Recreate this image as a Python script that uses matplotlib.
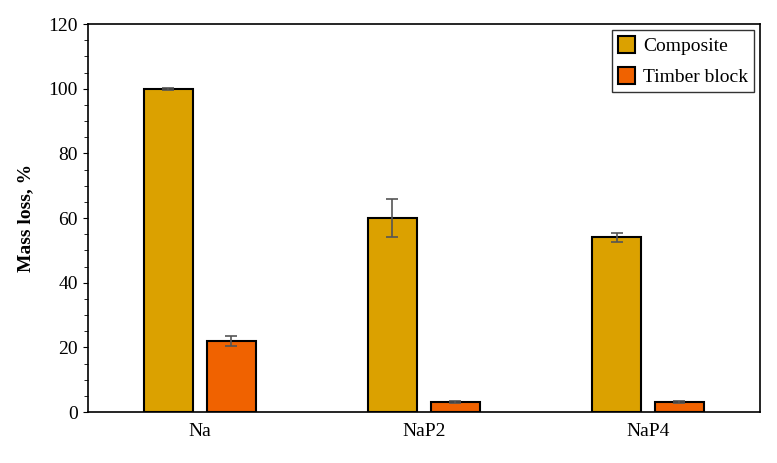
import matplotlib
matplotlib.use("Agg")
import matplotlib.pyplot as plt
import numpy as np

categories = ["Na", "NaP2", "NaP4"]
composite = [100, 60, 54]
composite_err = [0.3, 6, 1.5]
timber = [22, 3.2, 3]
timber_err = [1.5, 0.3, 0.3]

plt.rcParams['font.family'] = ['Liberation Serif', 'DejaVu Serif']

fig = plt.figure(figsize=(7.77, 4.63), dpi=100)
ax = fig.add_axes([0.113, 0.11, 0.865, 0.838])

x = np.arange(len(categories))
w = 0.22
ekw = dict(ecolor='#555555', capsize=4, elinewidth=1.2, capthick=1.2)
ax.bar(x - 0.14, composite, w, yerr=composite_err, color='#DBA100', edgecolor='black',
       linewidth=1.5, label='Composite', error_kw=ekw)
ax.bar(x + 0.14, timber, w, yerr=timber_err, color='#F06200', edgecolor='black',
       linewidth=1.5, label='Timber block', error_kw=ekw)

ax.set_xlim(-0.5, 2.5)
ax.set_ylim(0, 120)
ax.set_yticks(range(0, 121, 20))
ax.set_yticks(range(0, 121, 5), minor=True)
ax.set_xticks(x)
ax.set_xticklabels(categories)
ax.tick_params(axis='x', length=0, labelsize=14, pad=8)
ax.tick_params(axis='y', which='both', direction='out', labelsize=14)
ax.tick_params(axis='y', which='minor', length=3)
ax.set_ylabel('Mass loss, %', fontsize=14, fontweight='bold', labelpad=10)
for s in ax.spines.values():
    s.set_linewidth(1.2)

ax.legend(loc='upper right', fontsize=14, frameon=True, edgecolor='black', fancybox=False,
          handlelength=0.9, handleheight=1.0, handletextpad=0.4, borderpad=0.3,
          labelspacing=0.6, borderaxespad=0.3)

fig.savefig("out.png", dpi=100)
